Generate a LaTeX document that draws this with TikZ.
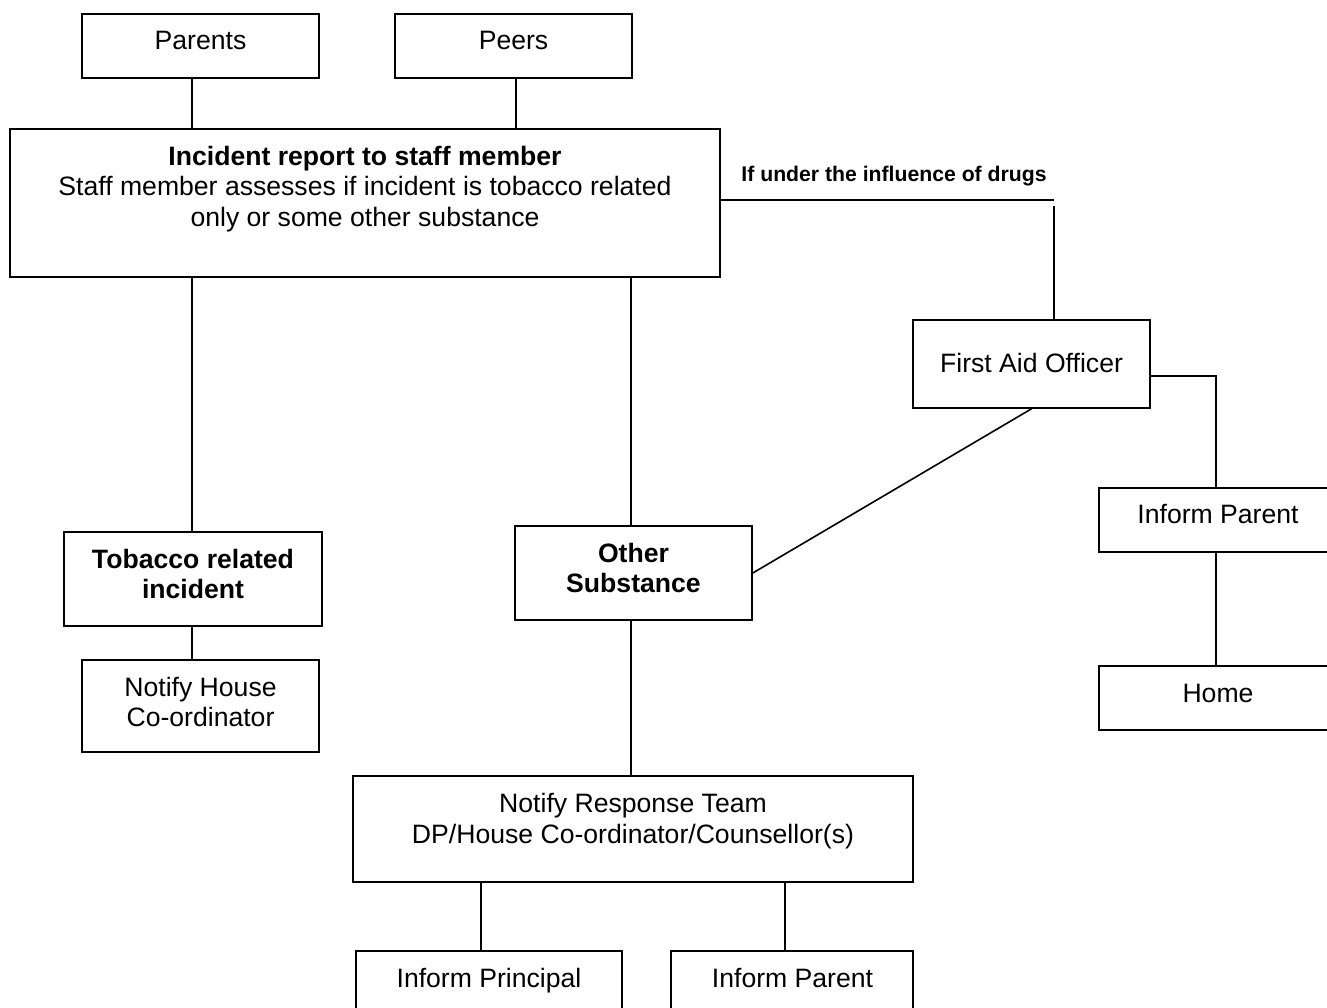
\documentclass[tikz,border=0pt]{standalone}
\usepackage{fontspec}
\setmainfont{Liberation Sans}
\usetikzlibrary{fit}
\begin{document}
\begin{tikzpicture}[x=1pt,y=-1pt,
  box/.style={draw, line width=1.6pt, inner sep=0pt},
  txt/.style={align=center, inner sep=0pt, font=\fontsize{26.6}{30.6}\selectfont},
  one/.style={txt, text height=19pt, text depth=0pt},
  btxt/.style={txt, font=\fontsize{26.6}{30.6}\selectfont\bfseries},
  small/.style={inner sep=0pt, font=\fontsize{21.2}{24}\selectfont\bfseries},
  conn/.style={line width=1.6pt}]
\useasboundingbox (0,0) rectangle (1327,1008);
\clip (0,0) rectangle (1327,1008);
\fill[white] (0,0) rectangle (1327,1008);
% column coordinates
\coordinate (xa) at (192,0);
\coordinate (xb) at (516,0);
\coordinate (xc) at (631,0);
\coordinate (xe) at (1216,0);
\coordinate (xf) at (481,0);
\coordinate (xg) at (785,0);
\coordinate (bend) at (1054,200);
\coordinate (bendb) at (1054,206);
\coordinate (yfa) at (0,376);
% boxes
\node[box, fit={(82,14)(319,78)}] (parents) {};
\node[box, fit={(395,14)(632,78)}] (peers) {};
\node[box, fit={(10,129)(720,277)}] (inc) {};
\node[box, fit={(64,532)(322,626)}] (tob) {};
\node[box, fit={(82,660)(319,752)}] (nhc) {};
\node[box, fit={(515,526)(752,620)}] (oth) {};
\node[box, fit={(913,320)(1150,408)}] (fa) {};
\node[box, fit={(1099,488)(1338,552)}] (ipr) {};
\node[box, fit={(1099,666)(1338,730)}] (home) {};
\node[box, fit={(353,776)(913,882)}] (nrt) {};
\node[box, fit={(356,951)(622,1014)}] (ipri) {};
\node[box, fit={(671,951)(913,1014)}] (ipb) {};
% texts
\node[one] (parentsT) at (200.5,40) {Parents};
\node[one] (peersT) at (513.5,40) {Peers};
\node[txt] (incT) at (365,189) {\textbf{Incident report to staff member}\\Staff member assesses if incident is tobacco related\\only or some other substance};
\node[btxt] (tobT) at (193,574) {Tobacco related\\incident};
\node[txt] (nhcT) at (200.5,702) {Notify House\\Co-ordinator};
\node[btxt] (othT) at (633.5,568) {Other\\Substance};
\node[one] (faT) at (1031.5,363) {First Aid Officer};
\node[one] (iprT) at (1218,514) {Inform Parent};
\node[one] (homeT) at (1218,693) {Home};
\node[txt] (nrtT) at (633,821) {Notify Response Team\\DP/House Co-ordinator/Counsellor(s)};
\node[one] (ipriT) at (489,978) {Inform Principal};
\node[one] (ipbT) at (792.5,978) {Inform Parent};
\node[small] (drugs) at (894,176) {If under the influence of drugs};
% connectors
\draw[conn] (parents.south -| xa) -- (inc.north -| xa);
\draw[conn] (peers.south -| xb) -- (inc.north -| xb);
\draw[conn] (inc.south -| xa) -- (tob.north -| xa);
\draw[conn] (tob.south -| xa) -- (nhc.north -| xa);
\draw[conn] (inc.south -| xc) -- (oth.north -| xc);
\draw[conn] (oth.south -| xc) -- (nrt.north -| xc);
\draw[conn] (nrt.south -| xf) -- (ipri.north -| xf);
\draw[conn] (nrt.south -| xg) -- (ipb.north -| xg);
\draw[conn] (inc.east |- bend) -- (bend);
\draw[conn] (bendb) -- (fa.north -| bendb);
\draw[conn] (fa.east |- yfa) -| (ipr.north -| xe);
\draw[conn] (ipr.south -| xe) -- (home.north -| xe);
\draw[conn] (fa.south) -- (oth.east);
\end{tikzpicture}
\end{document}
